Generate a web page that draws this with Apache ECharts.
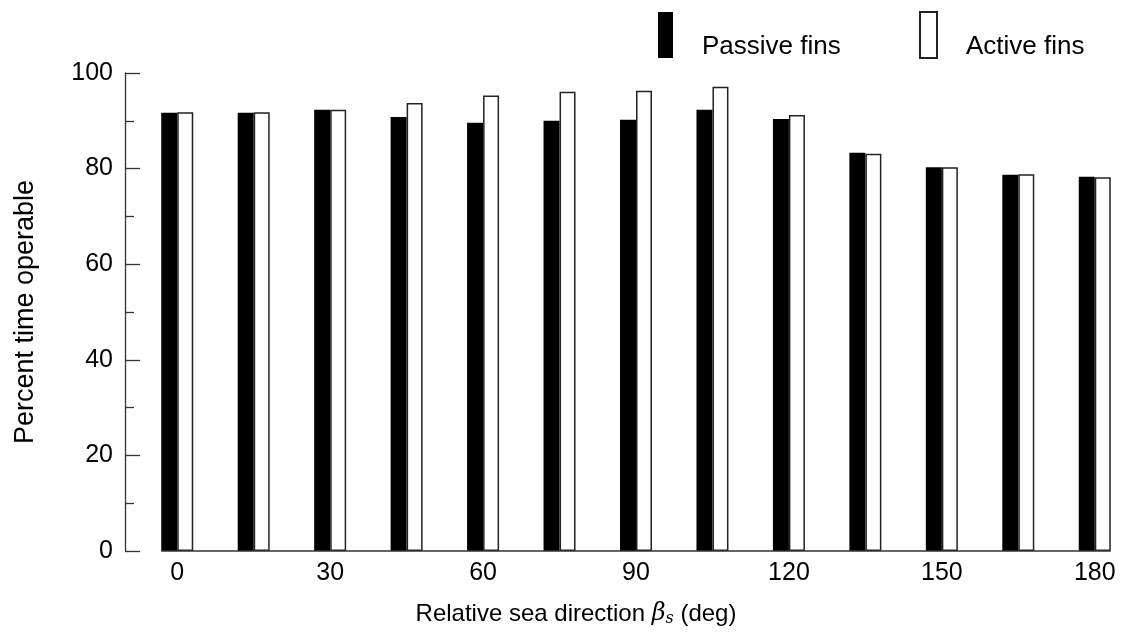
<!DOCTYPE html>
<html>
<head>
<meta charset="utf-8">
<script src="https://cdn.jsdelivr.net/npm/echarts@6/dist/echarts.min.js"></script>
<style>
  html, body { margin: 0; padding: 0; background: #fff; }
  #container { width: 1135px; height: 643px; }
</style>
</head>
<body>
<div id="container"></div>
<script>
// relative sea direction (deg)
let directions = ['0', '15', '30', '45', '60', '75', '90', '105', '120', '135', '150', '165', '180']
// percent time operable
let passiveFins = [91.7, 91.7, 92.3, 90.8, 89.6, 90.0, 90.2, 92.3, 90.4, 83.3, 80.3, 78.7, 78.3]
let activeFins = [91.8, 91.8, 92.3, 93.7, 95.3, 96.1, 96.3, 97.1, 91.2, 83.1, 80.3, 78.8, 78.2]
let yTicks = [0, 20, 40, 60, 80, 100]

let font = 'Liberation Sans'
let barW = 16

// legend text sits lower than the middle of its box, so push it down one half line
let legendText = {
    fontFamily: font,
    fontSize: 26,
    lineHeight: 24,
    color: '#000',
    padding: [0, 0, 0, 24]
}

let option = {
    animation: false,
    backgroundColor: '#fff',
    legend: [
        {
            data: [{name: 'Passive fins', icon: 'rect'}],
            left: 658, top: 10, padding: 0,
            itemWidth: 15, itemHeight: 46,
            formatter: function (name) { return '\n' + name },
            textStyle: legendText
        },
        {
            data: [{name: 'Active fins', icon: 'rect'}],
            left: 919, top: 10, padding: 0,
            itemWidth: 17, itemHeight: 46,
            formatter: function (name) { return '\n' + name },
            textStyle: legendText
        }
    ],
    grid: {
        left: 139,
        right: 2,
        top: 73,
        bottom: 92
    },
    xAxis: {
        type: 'category',
        data: directions,
        boundaryGap: true,
        axisLine: {show: false},
        axisTick: {show: false},
        axisLabel: {
            interval: 1,
            color: '#000',
            fontFamily: font,
            fontSize: 25,
            margin: 10
        },
        name: 'Relative sea direction {b|β}{s|s} (deg)',
        nameLocation: 'middle',
        nameGap: 50,
        nameTextStyle: {
            color: '#000',
            fontFamily: font,
            fontSize: 24,
            padding: [0, 120, 0, 0],
            rich: {
                b: {fontFamily: 'DejaVu Serif', fontStyle: 'italic', fontSize: 24, color: '#000'},
                s: {fontFamily: 'DejaVu Serif', fontStyle: 'italic', fontSize: 16, color: '#000', padding: [10, 0, 0, 0]}
            }
        }
    },
    yAxis: {
        type: 'value',
        min: yTicks[0],
        max: yTicks[yTicks.length - 1],
        interval: 20,
        offset: 14,
        splitLine: {show: false},
        axisLine: {show: true, lineStyle: {color: '#333', width: 1.3}},
        axisTick: {show: true, inside: true, length: 15, lineStyle: {color: '#333', width: 1.3}},
        minorTick: {show: true, splitNumber: 2, length: 9, lineStyle: {color: '#333', width: 1.3}},
        axisLabel: {
            color: '#000',
            fontFamily: font,
            fontSize: 25,
            margin: 12
        },
        name: 'Percent time operable',
        nameLocation: 'middle',
        nameRotate: 90,
        nameGap: 86,
        nameTextStyle: {
            color: '#000',
            fontFamily: font,
            fontSize: 27
        }
    },
    series: [
        {
            name: 'Passive fins',
            type: 'bar',
            data: passiveFins,
            barWidth: barW,
            barGap: '0%',
            itemStyle: {color: '#000'}
        },
        {
            name: 'Active fins',
            type: 'bar',
            data: activeFins,
            barWidth: barW,
            barGap: '0%',
            itemStyle: {color: '#fff', borderColor: '#222', borderWidth: 1.5}
        }
    ]
}

var myChart = echarts.init(document.getElementById('container'))
myChart.setOption(option)

// baseline only under the bars, from the first bar's left edge to the last bar's right edge
let x0 = myChart.convertToPixel({xAxisIndex: 0}, directions[0]) - barW
let x1 = myChart.convertToPixel({xAxisIndex: 0}, directions[directions.length - 1]) + barW
let yb = myChart.convertToPixel({yAxisIndex: 0}, 0)
myChart.setOption({
    graphic: [{
        type: 'line',
        z: 10,
        shape: {x1: x0, y1: yb, x2: x1, y2: yb},
        style: {stroke: '#333', lineWidth: 1.3}
    }]
})
</script>
</body>
</html>
